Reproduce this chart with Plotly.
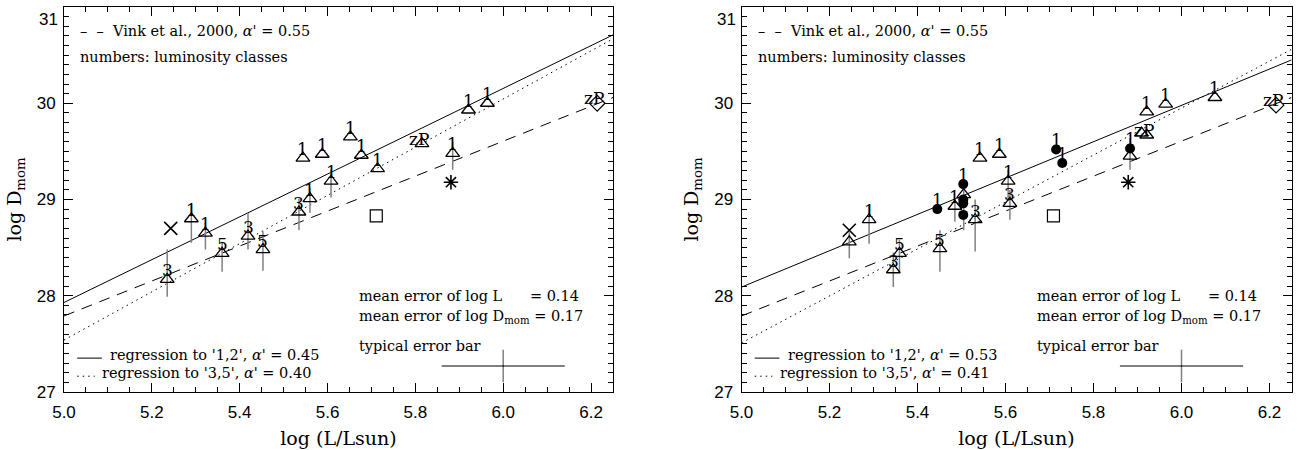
import plotly.graph_objects as go

# ---------------- data: left panel ----------------
L_tri_x = [5.235, 5.290, 5.322, 5.360, 5.419, 5.453, 5.535, 5.560, 5.608,
           5.544, 5.588, 5.652, 5.677, 5.714, 5.815, 5.885, 5.921, 5.964]
L_tri_y = [28.17, 28.80, 28.65, 28.44, 28.62, 28.48, 28.87, 29.01, 29.19,
           29.43, 29.47, 29.65, 29.46, 29.32, 29.58, 29.48, 29.93, 30.00]
L_err_up = [0.31, 0.14, 0.11, 0.12, 0.24, 0.19, 0.14, 0.11, 0.12,
            0.0, 0.0, 0.0, 0.0, 0.0, 0.0, 0.12, 0.0, 0.0]
L_err_dn = [0.18, 0.25, 0.17, 0.19, 0.14, 0.22, 0.19, 0.15, 0.17,
            0.0, 0.0, 0.0, 0.0, 0.0, 0.0, 0.17, 0.0, 0.0]
L_tri_lab = ["3", "1", "1", "5", "3", "5", "3", "1", "1",
             "1", "1", "1", "1", "1", "zP", "1", "1", "1"]
L_diam = (6.214, 30.00)
L_star = (5.881, 29.18)
L_square = (5.711, 28.83)
L_cross = (5.243, 28.70)
L_line_x = [5.0, 6.25]
L_solid_y = [27.93, 30.71]
L_dashed_y = [27.79, 30.06]
L_dotted_y = [27.54, 30.67]
L_alpha_12 = "0.45"
L_alpha_35 = "0.40"

# ---------------- data: right panel ----------------
R_tri_x = [5.245, 5.290, 5.345, 5.359, 5.451, 5.485, 5.505, 5.531, 5.606,
           5.610, 5.542, 5.586, 5.883, 5.909, 5.921, 5.921, 5.964, 6.076]
R_tri_y = [28.56, 28.79, 28.27, 28.44, 28.49, 28.93, 29.05, 28.79, 29.19,
           28.96, 29.43, 29.47, 29.45, 29.69, 29.67, 29.91, 29.99, 30.06]
R_err_up = [0.10, 0.15, 0.18, 0.14, 0.19, 0.07, 0.05, 0.21, 0.12,
            0.14, 0.0, 0.0, 0.19, 0.0, 0.0, 0.0, 0.0, 0.0]
R_err_dn = [0.17, 0.25, 0.18, 0.19, 0.24, 0.16, 0.37, 0.33, 0.19,
            0.17, 0.0, 0.0, 0.14, 0.0, 0.0, 0.0, 0.0, 0.0]
R_tri_lab = ["", "1", "3", "5", "5", "1", "", "3", "1",
             "3", "1", "1", "", "", "zP", "1", "1", "1"]
R_circ_x = [5.445, 5.504, 5.504, 5.504, 5.504, 5.715, 5.729, 5.883]
R_circ_y = [28.90, 29.16, 29.00, 28.96, 28.84, 29.52, 29.38, 29.53]
R_circ_lab = ["1", "1", "", "", "", "1", "1", "1"]
R_diam = (6.215, 29.98)
R_star = (5.879, 29.18)
R_square = (5.709, 28.83)
R_cross = (5.245, 28.68)
R_line_x = [5.0, 6.25]
R_solid_y = [28.09, 30.45]
R_dashed_y = [27.79, 30.06]
R_dotted_y = [27.51, 30.56]
R_alpha_12 = "0.53"
R_alpha_35 = "0.41"

# typical error bar (both panels)
typ_x, typ_y = 6.0, 27.27
mean_err_L = 0.14
mean_err_D = 0.17

x_ticks = [5.0, 5.2, 5.4, 5.6, 5.8, 6.0, 6.2]
x_ticktext = ["5.0", "5.2", "5.4", "5.6", "5.8", "6.0", "6.2"]
y_ticks = [27, 28, 29, 30, 31]
y_ticktext = ["27", "28", "29", "30", ""]   # "31" drawn separately (sits below its tick)
y_top_label = "31"

# ---------------- figure ----------------
W, H = 1302, 450
fig = go.Figure()
GREY = "#808080"
SERIF = "DejaVu Serif"
SANS = "Liberation Sans"


def add_panel(xa, ya, tri_x, tri_y, eu, ed, diam, star, square, cross,
              lx, solid_y, dashed_y, dotted_y, circ=None):
    fig.add_trace(go.Scatter(x=lx, y=solid_y, mode="lines", line=dict(color="black", width=1),
                             xaxis=xa, yaxis=ya, showlegend=False, hoverinfo="skip"))
    fig.add_trace(go.Scatter(x=lx, y=dashed_y, mode="lines",
                             line=dict(color="black", width=1, dash="11px,8px"),
                             xaxis=xa, yaxis=ya, showlegend=False, hoverinfo="skip"))
    fig.add_trace(go.Scatter(x=lx, y=dotted_y, mode="lines",
                             line=dict(color="black", width=1, dash="1.5px,4px"),
                             xaxis=xa, yaxis=ya, showlegend=False, hoverinfo="skip"))
    fig.add_trace(go.Scatter(x=tri_x, y=tri_y, mode="markers",
                             marker=dict(symbol="triangle-up-open", size=12,
                                         color="black", line=dict(width=1.3, color="black")),
                             error_y=dict(type="data", symmetric=False, array=eu, arrayminus=ed,
                                          visible=True, color=GREY, thickness=1.5, width=0),
                             xaxis=xa, yaxis=ya, showlegend=False))
    if circ is not None:
        cx, cy = circ
        fig.add_trace(go.Scatter(x=cx, y=cy, mode="markers",
                                 marker=dict(symbol="circle", size=10, color="black"),
                                 xaxis=xa, yaxis=ya, showlegend=False))
    fig.add_trace(go.Scatter(x=[diam[0]], y=[diam[1]], mode="markers",
                             marker=dict(symbol="diamond-open", size=12, color="black",
                                         line=dict(width=1.2)),
                             xaxis=xa, yaxis=ya, showlegend=False))
    fig.add_trace(go.Scatter(x=[star[0]], y=[star[1]], mode="markers",
                             marker=dict(symbol="asterisk-open", size=12, color="black",
                                         line=dict(width=1.6, color="black")),
                             xaxis=xa, yaxis=ya, showlegend=False))
    fig.add_trace(go.Scatter(x=[square[0]], y=[square[1]], mode="markers",
                             marker=dict(symbol="square-open", size=12, color="black",
                                         line=dict(width=1.2)),
                             xaxis=xa, yaxis=ya, showlegend=False))
    fig.add_trace(go.Scatter(x=[cross[0]], y=[cross[1]], mode="markers",
                             marker=dict(symbol="x-thin-open", size=13, color="black",
                                         line=dict(width=1.6, color="black")),
                             xaxis=xa, yaxis=ya, showlegend=False))
    fig.add_trace(go.Scatter(x=[typ_x], y=[typ_y], mode="markers",
                             marker=dict(size=1, color="black"),
                             error_x=dict(type="constant", value=mean_err_L, color="black",
                                          thickness=1.2, width=0),
                             error_y=dict(type="constant", value=mean_err_D, color=GREY,
                                          thickness=1.5, width=0),
                             xaxis=xa, yaxis=ya, showlegend=False, hoverinfo="skip"))


add_panel("x", "y", L_tri_x, L_tri_y, L_err_up, L_err_dn, L_diam, L_star, L_square,
          L_cross, L_line_x, L_solid_y, L_dashed_y, L_dotted_y)
add_panel("x2", "y2", R_tri_x, R_tri_y, R_err_up, R_err_dn, R_diam, R_star, R_square,
          R_cross, R_line_x, R_solid_y, R_dashed_y, R_dotted_y, circ=(R_circ_x, R_circ_y))

annotations = []


def labels(xs, ys, labs, xr, yr):
    for xv, yv, t in zip(xs, ys, labs):
        if not t:
            continue
        annotations.append(dict(x=xv, y=yv, xref=xr, yref=yr, text=t, showarrow=False,
                                yshift=9 if t != "zP" else 5, xshift=0 if t != "zP" else -3,
                                font=dict(family=SERIF, size=17, color="black")))


labels(L_tri_x, L_tri_y, L_tri_lab, "x", "y")
labels([L_diam[0]], [L_diam[1]], ["zP"], "x", "y")
labels(R_tri_x, R_tri_y, R_tri_lab, "x2", "y2")
labels(R_circ_x, R_circ_y, R_circ_lab, "x2", "y2")
labels([R_diam[0]], [R_diam[1]], ["zP"], "x2", "y2")

NB = "\u00a0"
shapes = []
for xr, yr, a12, a35 in [("x", "y", L_alpha_12, L_alpha_35), ("x2", "y2", R_alpha_12, R_alpha_35)]:
    xd, yd = xr + " domain", yr + " domain"
    tf = dict(family=SERIF, size=14.5, color="black")
    annotations += [
        dict(x=0, y=y_ticks[-1], xref=xd, yref=yr, xanchor="right", yanchor="top",
             xshift=-4, yshift=-1, text=y_top_label, showarrow=False,
             font=dict(family=SANS, size=17, color="black")),
        dict(x=0.026, y=0.938, xref=xd, yref=yd, xanchor="left", yanchor="middle",
             text="–" + NB + NB + "–" + NB + NB + "Vink et al., 2000, <i>α</i>' = 0.55",
             showarrow=False, font=tf),
        dict(x=0.026, y=0.870, xref=xd, yref=yd, xanchor="left", yanchor="middle",
             text="numbers: luminosity classes", showarrow=False, font=tf),
        dict(x=0.080, y=0.097, xref=xd, yref=yd, xanchor="left", yanchor="middle",
             text="regression to '1,2', <i>α</i>' = " + a12, showarrow=False, font=tf),
        dict(x=0.066, y=0.050, xref=xd, yref=yd, xanchor="left", yanchor="middle",
             text="regression to '3,5', <i>α</i>' = " + a35, showarrow=False, font=tf),
        dict(x=0.533, y=0.250, xref=xd, yref=yd, xanchor="left", yanchor="middle",
             text="mean error of log L" + NB * 6 + "= 0.14", showarrow=False, font=tf),
        dict(x=0.533, y=0.194, xref=xd, yref=yd, xanchor="left", yanchor="middle",
             text="mean error of log D<sub>mom</sub> = 0.17", showarrow=False, font=tf),
        dict(x=0.533, y=0.119, xref=xd, yref=yd, xanchor="left", yanchor="middle",
             text="typical error bar", showarrow=False, font=tf),
    ]
    shapes += [
        dict(type="line", xref=xd, yref=yd, x0=0.024, x1=0.069, y0=0.088, y1=0.088,
             line=dict(color="black", width=1)),
        dict(type="line", xref=xd, yref=yd, x0=0.024, x1=0.056, y0=0.041, y1=0.041,
             line=dict(color="black", width=1, dash="1.5px,4px")),
    ]

# domains
t_px, b_px = 7, 392
xl = [64 / W, 613 / W]
xr_ = [741.5 / W, 1291.5 / W]

axis_common = dict(showline=True, linecolor="black", linewidth=1, mirror="allticks",
                   ticks="inside", tickcolor="black", ticklen=9, tickwidth=1,
                   showgrid=False, zeroline=False, automargin=False,
                   ticklabeloverflow="allow",
                   tickfont=dict(family=SANS, size=17, color="black"))
xaxis_common = dict(axis_common, range=[5.0, 6.25], tickvals=x_ticks, ticktext=x_ticktext,
                    ticklabelstandoff=5,
                    minor=dict(ticks="inside", dtick=0.05, tick0=5.0, ticklen=5,
                               tickcolor="black", showgrid=False),
                    title=dict(text="log (L/Lsun)", font=dict(family=SERIF, size=19, color="black"),
                               standoff=10))
yaxis_common = dict(axis_common, range=[26.9999, 31.0001], tickvals=y_ticks,
                    ticktext=y_ticktext, ticklabelstandoff=4,
                    minor=dict(ticks="inside", dtick=0.1, tick0=27, ticklen=5,
                               tickcolor="black", showgrid=False),
                    title=dict(text="log D<sub>mom</sub>", font=dict(family=SERIF, size=19, color="black"),
                               standoff=10))

ydom = [1 - b_px / H, 1 - t_px / H]
fig.update_layout(
    width=W, height=H,
    margin=dict(l=0, r=0, t=0, b=0, autoexpand=False),
    paper_bgcolor="white", plot_bgcolor="white",
    xaxis=dict(xaxis_common, domain=xl, anchor="y"),
    yaxis=dict(yaxis_common, domain=ydom, anchor="x"),
    xaxis2=dict(xaxis_common, domain=xr_, anchor="y2"),
    yaxis2=dict(yaxis_common, domain=ydom, anchor="x2"),
    annotations=annotations,
    shapes=shapes,
    showlegend=False,
)

fig.write_html("out.html")
